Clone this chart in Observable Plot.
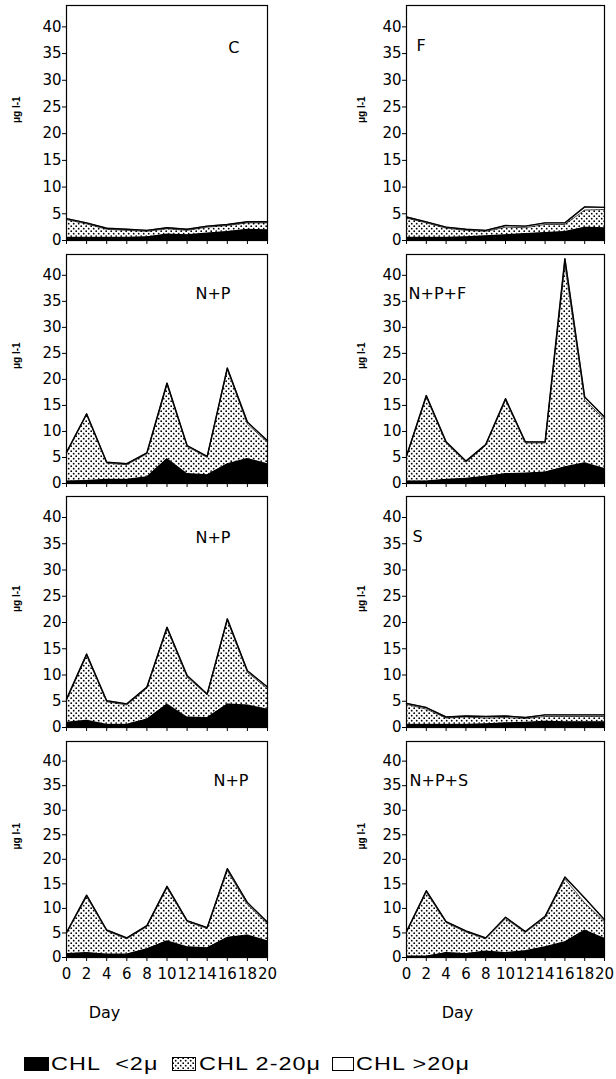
<!DOCTYPE html>
<html>
<head>
<meta charset="utf-8">
<script src="https://cdn.jsdelivr.net/npm/d3@7"></script>
<script src="https://cdn.jsdelivr.net/npm/@observablehq/plot@0.6"></script>
<style>
  html, body { margin: 0; padding: 0; background: #fff; }
  body { width: 616px; height: 1079px; position: relative; overflow: hidden; font-family: "Liberation Sans", Arial, sans-serif; }
  .panel { position: absolute; }
  .lgtext { position: absolute; font-size: 18px; line-height: 1; white-space: pre; letter-spacing: 0.8px; transform: scaleX(1.3); transform-origin: 0 0; color: #000; }
  .lgbox { position: absolute; box-sizing: border-box; }
</style>
</head>
<body>
<svg width="0" height="0" style="position:absolute;left:0;top:0">
  <defs>
    <pattern id="dots" width="5" height="5" patternUnits="userSpaceOnUse">
      <rect width="5" height="5" fill="#fff"></rect>
      <circle cx="1.2" cy="1.2" r="0.9" fill="#000"></circle>
      <circle cx="3.7" cy="3.7" r="0.9" fill="#000"></circle>
    </pattern>
  </defs>
</svg>
<script>
// ---------------- data ----------------
const days = [0, 2, 4, 6, 8, 10, 12, 14, 16, 18, 20];
const yTicks = [0, 5, 10, 15, 20, 25, 30, 35, 40];
const sizeClasses = ["CHL  <2μ", "CHL 2-20μ", "CHL >20μ"];
const panelNames = ["C", "F", "N+P", "N+P+F", "N+P", "S", "N+P", "N+P+S"];
const yLabel = "μg l-1";
const xLabel = "Day";

// C
const C_lt2  = [0.6, 0.6, 0.6, 0.6, 0.7, 1.2, 1.1, 1.4, 1.7, 2.1, 2.0];
const C_mid  = [3.3, 2.5, 1.5, 1.3, 1.0, 1.0, 0.8, 1.1, 1.1, 1.2, 1.3];
const C_gt20 = [0.2, 0.2, 0.2, 0.2, 0.2, 0.2, 0.2, 0.2, 0.2, 0.2, 0.2];
// F
const F_lt2  = [0.6, 0.6, 0.6, 0.7, 0.9, 1.1, 1.3, 1.5, 1.7, 2.5, 2.4];
const F_mid  = [3.6, 2.7, 1.7, 1.2, 0.8, 1.4, 1.1, 1.5, 1.3, 3.2, 3.4];
const F_gt20 = [0.2, 0.2, 0.2, 0.2, 0.2, 0.3, 0.3, 0.3, 0.3, 0.6, 0.4];
// N+P (row 2)
const NP1_lt2  = [0.5, 0.6, 0.8, 0.8, 1.3, 4.8, 1.9, 1.7, 3.8, 4.8, 3.8];
const NP1_mid  = [5.3, 12.6, 3.1, 2.8, 4.4, 14.2, 5.2, 3.3, 18.1, 6.6, 4.1];
const NP1_gt20 = [0.2, 0.2, 0.2, 0.2, 0.2, 0.3, 0.2, 0.2, 0.3, 0.4, 0.3];
// N+P+F
const NPF_lt2  = [0.5, 0.5, 0.8, 1.0, 1.4, 1.9, 2.0, 2.2, 3.2, 4.0, 2.9];
const NPF_mid  = [4.6, 16.1, 7.0, 3.1, 5.9, 14.1, 5.8, 5.6, 38.8, 12.0, 9.5];
const NPF_gt20 = [0.2, 0.3, 0.2, 0.2, 0.2, 0.3, 0.2, 0.2, 1.2, 0.6, 0.4];
// N+P (row 3)
const NP2_lt2  = [1.0, 1.4, 0.6, 0.6, 1.6, 4.5, 2.0, 1.9, 4.5, 4.3, 3.5];
const NP2_mid  = [4.2, 12.3, 4.3, 3.7, 5.9, 14.3, 7.6, 4.3, 15.9, 6.2, 3.9];
const NP2_gt20 = [0.2, 0.3, 0.2, 0.2, 0.2, 0.3, 0.3, 0.2, 0.3, 0.3, 0.3];
// S
const S_lt2  = [0.6, 0.6, 0.6, 0.6, 0.7, 0.9, 1.0, 1.2, 1.1, 1.1, 1.1];
const S_mid  = [3.8, 2.9, 1.2, 1.4, 1.1, 1.0, 0.7, 0.9, 1.0, 1.0, 1.0];
const S_gt20 = [0.2, 0.3, 0.2, 0.2, 0.3, 0.3, 0.2, 0.3, 0.3, 0.3, 0.3];
// N+P (row 4)
const NP3_lt2  = [0.8, 1.0, 0.7, 0.7, 1.8, 3.4, 2.2, 2.0, 4.1, 4.6, 3.4];
const NP3_mid  = [4.1, 11.4, 4.7, 3.1, 4.5, 10.8, 5.1, 3.9, 13.6, 6.2, 3.5];
const NP3_gt20 = [0.2, 0.3, 0.2, 0.2, 0.2, 0.3, 0.2, 0.2, 0.4, 0.4, 0.3];
// N+P+S
const NPS_lt2  = [0.3, 0.3, 1.0, 0.8, 1.3, 1.0, 1.4, 2.2, 3.2, 5.6, 3.9];
const NPS_mid  = [4.8, 13.0, 6.1, 4.4, 2.5, 6.9, 3.7, 5.9, 12.8, 5.5, 3.4];
const NPS_gt20 = [0.2, 0.3, 0.2, 0.2, 0.2, 0.3, 0.2, 0.3, 0.4, 1.0, 0.4];

const panelSeries = [
  [C_lt2, C_mid, C_gt20], [F_lt2, F_mid, F_gt20],
  [NP1_lt2, NP1_mid, NP1_gt20], [NPF_lt2, NPF_mid, NPF_gt20],
  [NP2_lt2, NP2_mid, NP2_gt20], [S_lt2, S_mid, S_gt20],
  [NP3_lt2, NP3_mid, NP3_gt20], [NPS_lt2, NPS_mid, NPS_gt20]
];

// ---------------- layout ----------------
const colsLayout = [
  {left: 0, width: 300, ml: 66, mr: 33, yLabelOff: 50, dayDx: 38},
  {left: 308, width: 308, ml: 98, mr: 12, yLabelOff: 45, dayDx: 51}
];
const rowsLayout = [
  {top: 0,   height: 250, mt: 5, mb: 10},
  {top: 250, height: 242, mt: 4, mb: 9},
  {top: 492, height: 245, mt: 4, mb: 10},
  {top: 737, height: 293, mt: 4, mb: 73}
];
const nameLayout = [
  {anchor: "top-right", ta: "end", dx: -28, dy: 42},
  {anchor: "top-left", ta: "start", dx: 10, dy: 40},
  {anchor: "top-right", ta: "end", dx: -37, dy: 39},
  {anchor: "top-left", ta: "start", dx: 2, dy: 39},
  {anchor: "top-right", ta: "end", dx: -37, dy: 41},
  {anchor: "top-left", ta: "start", dx: 6, dy: 40},
  {anchor: "top-right", ta: "end", dx: -19, dy: 39},
  {anchor: "top-left", ta: "start", dx: 3, dy: 39}
];

function drawPanel(i) {
  const col = i % 2, row = Math.floor(i / 2);
  const C = colsLayout[col], R = rowsLayout[row], N = nameLayout[i];
  const series = panelSeries[i];
  const data = days.flatMap((d, k) => sizeClasses.map((c, s) => ({day: d, cls: c, v: series[s][k]})));
  const marks = [
    Plot.areaY(data, Plot.stackY({x: "day", y: "v", z: "cls", fill: "cls", order: sizeClasses})),
    Plot.lineY(data, Plot.stackY2({x: "day", y: "v", z: "cls", order: sizeClasses, stroke: "#000", strokeWidth: 0.7})),
    Plot.lineY(data, Plot.groupX({y: "sum"}, {x: "day", y: "v", stroke: "#000", strokeWidth: 1.4})),
    Plot.frame({stroke: "#000", strokeWidth: 1.2}),
    Plot.axisY({ticks: yTicks, tickSize: 4, tickPadding: 1, label: null}),
    Plot.axisX({ticks: days, tickSize: 4, tickPadding: 7, label: null,
                tickFormat: row === 3 ? (d => String(d)) : (() => "")}),
    Plot.text([yLabel], {text: d => d, frameAnchor: "left", dx: -C.yLabelOff, rotate: -90,
                         fontSize: 10, fontWeight: "bold", fontFamily: "Liberation Sans, Arial, sans-serif"}),
    Plot.text([panelNames[i]], {text: d => d, frameAnchor: N.anchor, textAnchor: N.ta, lineAnchor: "middle",
                                dx: N.dx, dy: N.dy, fontSize: 16})
  ];
  if (row === 3) {
    marks.push(Plot.text([xLabel], {text: d => d, frameAnchor: "bottom-left", textAnchor: "middle", lineAnchor: "middle",
                                    dx: C.dayDx, dy: 55, fontSize: 16}));
  }
  const svg = Plot.plot({
    width: C.width, height: R.height,
    marginLeft: C.ml, marginRight: C.mr, marginTop: R.mt, marginBottom: R.mb,
    style: {background: "transparent", fontFamily: "DejaVu Sans, sans-serif", fontSize: "15px", color: "#000", overflow: "visible"},
    x: {domain: [0, 20]},
    y: {domain: [0, 44]},
    color: {domain: sizeClasses, range: ["#000", "url(#dots)", "#fff"]},
    marks
  });
  const wrap = document.createElement("div");
  wrap.className = "panel";
  wrap.style.left = C.left + "px";
  wrap.style.top = R.top + "px";
  wrap.appendChild(svg);
  document.body.appendChild(wrap);
}
for (let i = 0; i < 8; i++) drawPanel(i);

// ---------------- legend ----------------
const legendSwatch = [
  {x: 24, w: 25, style: "background:#000"},
  {x: 172, w: 24, style: "border:1px solid #000"},
  {x: 332, w: 22, style: "border:1px solid #000;background:#fff"}
];
const legendTextX = [51, 199, 356];
sizeClasses.forEach((c, s) => {
  const sw = legendSwatch[s];
  if (s === 1) {
    const ns = "http://www.w3.org/2000/svg";
    const sv = document.createElementNS(ns, "svg");
    sv.setAttribute("width", sw.w); sv.setAttribute("height", 14);
    sv.style.position = "absolute"; sv.style.left = sw.x + "px"; sv.style.top = "1057px";
    const r = document.createElementNS(ns, "rect");
    r.setAttribute("x", 0.5); r.setAttribute("y", 0.5); r.setAttribute("width", sw.w - 1); r.setAttribute("height", 13);
    r.setAttribute("fill", "url(#dots)"); r.setAttribute("stroke", "#000");
    sv.appendChild(r);
    document.body.appendChild(sv);
  } else {
    const b = document.createElement("div");
    b.className = "lgbox";
    b.style.cssText += `left:${sw.x}px;top:1057px;width:${sw.w}px;height:14px;${sw.style}`;
    document.body.appendChild(b);
  }
  const t = document.createElement("span");
  t.className = "lgtext";
  t.style.left = legendTextX[s] + "px";
  t.style.top = "1055px";
  t.textContent = c;
  document.body.appendChild(t);
});
</script>
</body>
</html>
